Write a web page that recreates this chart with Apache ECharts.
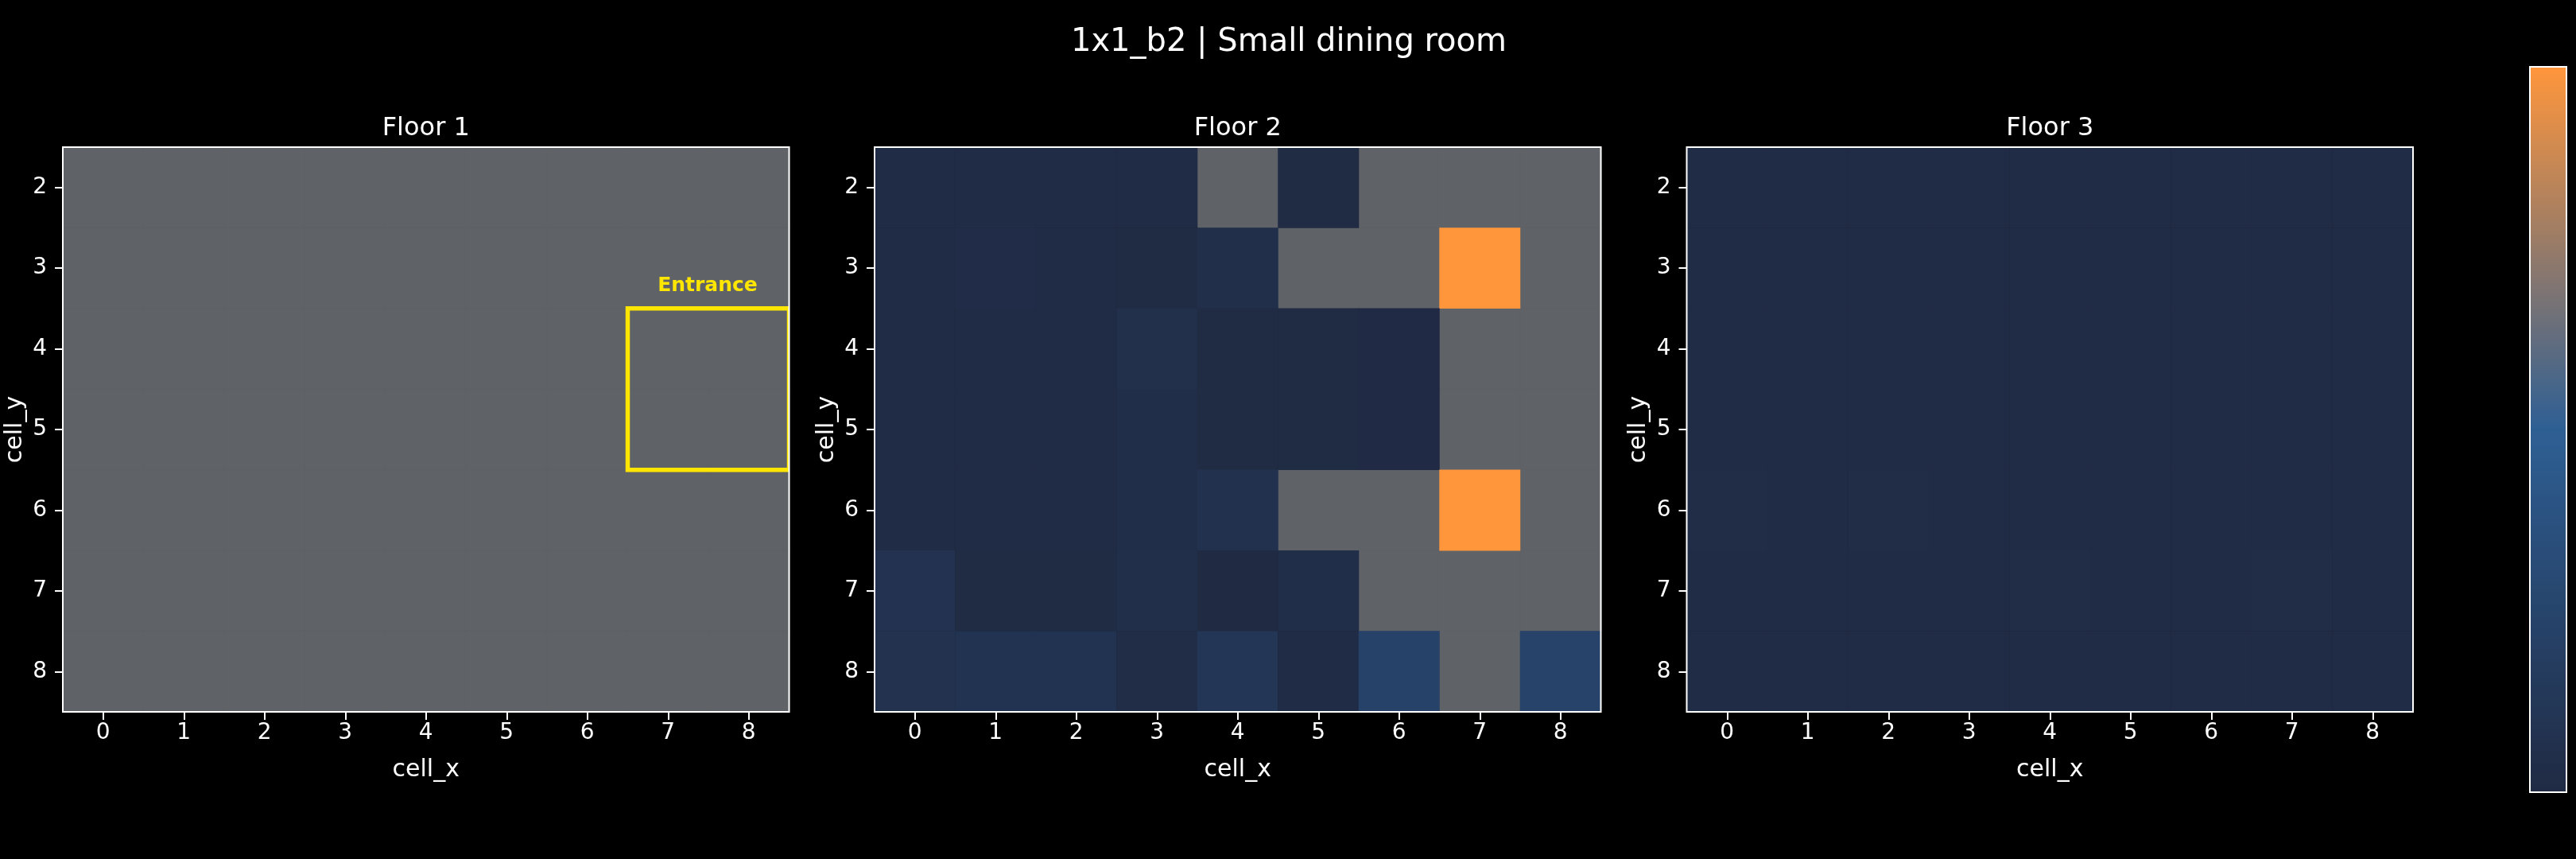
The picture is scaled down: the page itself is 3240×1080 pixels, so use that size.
<!DOCTYPE html>
<html>
<head>
<meta charset="utf-8">
<style>html,body{margin:0;background:#000}#chart{width:3240px;height:1080px}</style>
<script src="https://cdn.jsdelivr.net/npm/echarts@6/dist/echarts.min.js"></script>
</head>
<body>
<div id="chart"></div>
<script>
// ===== Data (null = no value, shown grey)
const chartTitle = '1x1_b2 | Small dining room';
const floorNames = ['Floor 1','Floor 2','Floor 3'];
const cellX = ['0','1','2','3','4','5','6','7','8'];
const cellY = ['2','3','4','5','6','7','8'];

const floor1 = [
  [null,null,null,null,null,null,null,null,null],
  [null,null,null,null,null,null,null,null,null],
  [null,null,null,null,null,null,null,null,null],
  [null,null,null,null,null,null,null,null,null],
  [null,null,null,null,null,null,null,null,null],
  [null,null,null,null,null,null,null,null,null],
  [null,null,null,null,null,null,null,null,null]
];
const floor2 = [
  [.010,.010,.010,.010,null,.006,null,null,null],
  [.010,.030,.010,.008,.050,null,null,1.00,null],
  [.010,.010,.010,.055,.006,.005,.004,null,null],
  [.010,.010,.010,.035,.006,.005,.004,null,null],
  [.010,.010,.010,.035,.065,null,null,1.00,null],
  [.080,.006,.006,.050,.002,.040,null,null,null],
  [.075,.085,.085,.020,.110,.012,.230,null,.235]
];
const floor3 = [
  [.010,.010,.010,.010,.010,.010,.010,.010,.010],
  [.010,.010,.010,.010,.010,.010,.010,.010,.010],
  [.010,.010,.010,.010,.010,.010,.010,.010,.010],
  [.010,.010,.010,.010,.010,.010,.010,.010,.010],
  [.020,.012,.023,.010,.010,.010,.010,.010,.010],
  [.010,.010,.010,.010,.024,.010,.010,.018,.010],
  [.010,.010,.010,.010,.010,.010,.010,.010,.010]
];
const floors = [floor1, floor2, floor3];

const entranceLabel = 'Entrance';
const entranceX = ['7','8'];
const entranceY = ['4','5'];

// ===== Style
const FONT = 'DejaVu Sans';
const GREY = '#5f6266';
const YELLOW = '#ffe600';
const rampColors = ['#202a43','#2e5f94','#ff963c'];
const gridLefts = [79, 1100, 2121.5];
const GRID_W = 913.5, GRID_TOP = 185, GRID_H = 710;

// ===== Helpers
function cellsOf(rows, wantNull){
  const out = [];
  rows.forEach((row,y)=>row.forEach((v,x)=>{
    if ((v===null) === wantNull) out.push([x,y,wantNull ? 0 : v]);
  }));
  return out;
}

function renderFrame(params, api){
  const c = params.coordSys;
  return { type:'rect', shape:{x:c.x,y:c.y,width:c.width,height:c.height},
    style:{fill:'none',stroke:'#fff',lineWidth:2} };
}

function renderEntrance(params, api){
  const c = params.coordSys;
  const size = api.size([1,1]);
  const a = api.coord([cellX.indexOf(entranceX[0]), cellY.indexOf(entranceY[0])]);
  const b = api.coord([cellX.indexOf(entranceX[1]), cellY.indexOf(entranceY[1])]);
  const x0 = a[0]-size[0]/2, y0 = a[1]-size[1]/2;
  const w = b[0]+size[0]/2-x0, h = b[1]+size[1]/2-y0;
  return { type:'group', children:[
    { type:'rect', shape:{x:x0,y:y0,width:w,height:h},
      style:{fill:'none',stroke:YELLOW,lineWidth:5.5},
      clipPath:{type:'rect',shape:{x:c.x,y:c.y,width:c.width,height:c.height}} },
    { type:'text', style:{x:x0+w/2-1,y:y0-28,text:entranceLabel,fill:YELLOW,align:'center',verticalAlign:'middle',
      font:'bold 25px "'+FONT+'"'} }
  ]};
}

// ===== Option
const titles = [{ text:chartTitle, left:1616, top:49, textAlign:'center', textVerticalAlign:'middle',
  textStyle:{color:'#fff',fontFamily:FONT,fontWeight:'normal',fontSize:40} }];
const grids=[], xAxes=[], yAxes=[], series=[], valueSeries=[];

floors.forEach((rows,i)=>{
  titles.push({ text:floorNames[i], left:gridLefts[i]+GRID_W/2-5, top:157, textAlign:'center', textVerticalAlign:'middle',
    textStyle:{color:'#fff',fontFamily:FONT,fontWeight:'normal',fontSize:32} });
  grids.push({ left:gridLefts[i], top:GRID_TOP, width:GRID_W, height:GRID_H });

  const axisBase = {
    type:'category', nameLocation:'middle',
    nameTextStyle:{color:'#fff',fontFamily:FONT,fontSize:30},
    axisLine:{show:false},
    axisTick:{show:true,alignWithLabel:true,length:10,lineStyle:{color:'#fff',width:2}},
    splitLine:{show:false}, splitArea:{show:false}
  };
  const labelBase = {color:'#fff',fontFamily:FONT,fontSize:28,interval:0};
  xAxes.push({ ...axisBase, gridIndex:i, position:'bottom', data:cellX, name:'cell_x', nameGap:58,
    axisLabel:{...labelBase,margin:13} });
  yAxes.push({ ...axisBase, gridIndex:i, position:'left', inverse:true, data:cellY, name:'cell_y', nameGap:45,
    axisLabel:{...labelBase,margin:20,padding:[3,0,0,0]} });

  series.push({ type:'heatmap', xAxisIndex:i, yAxisIndex:i, data:cellsOf(rows,true), z:2,
    itemStyle:{color:GREY,borderColor:GREY,borderWidth:1}, emphasis:{disabled:true} });
  valueSeries.push(series.length);
  series.push({ type:'heatmap', xAxisIndex:i, yAxisIndex:i, data:cellsOf(rows,false), z:3,
    itemStyle:{borderWidth:0}, emphasis:{disabled:true} });
  if (i===0) series.push({ type:'custom', xAxisIndex:i, yAxisIndex:i, z:4, data:[[0,0]], renderItem:renderEntrance });
  series.push({ type:'custom', xAxisIndex:i, yAxisIndex:i, z:5, data:[[0,0]], renderItem:renderFrame });
});

const chart = echarts.init(document.getElementById('chart'));
chart.setOption({
  backgroundColor:'#000',
  animation:false,
  textStyle:{fontFamily:FONT},
  title:titles,
  grid:grids,
  xAxis:xAxes,
  yAxis:yAxes,
  visualMap:{
    type:'continuous', min:0, max:1, seriesIndex:valueSeries,
    left:3182, top:84, itemWidth:46, itemHeight:912, padding:0,
    borderWidth:0, backgroundColor:'transparent',
    text:null, calculable:false, showLabel:false, hoverLink:false, realtime:false,
    inRange:{color:rampColors}
  },
  // colour bar outline
  graphic:[{ type:'rect', z:100, shape:{x:3182,y:84,width:46,height:912},
    style:{fill:'none',stroke:'#fff',lineWidth:2} }],
  series:series
});
</script>
</body>
</html>
